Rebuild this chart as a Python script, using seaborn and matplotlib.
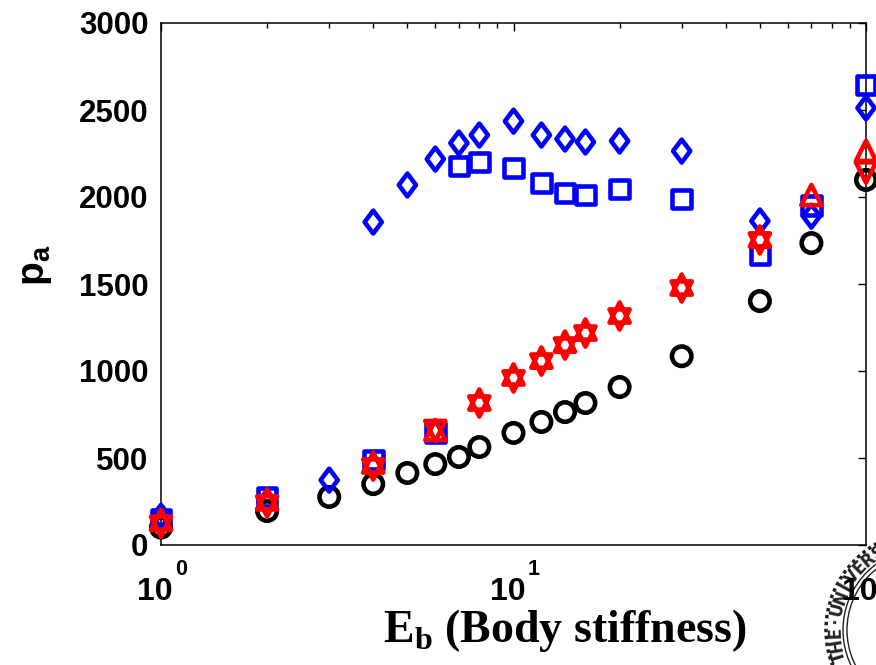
import numpy as np
import matplotlib
matplotlib.use('Agg')
import matplotlib.pyplot as plt
import seaborn as sns
import pandas as pd
from matplotlib.path import Path
from matplotlib.ticker import FixedLocator, LogLocator, NullFormatter
import matplotlib.patches as mpatches
import matplotlib.transforms as mtrans

# ---------------- data ----------------
x_circle = [1, 2, 3, 4, 5, 6, 7, 8, 10, 12, 14, 16, 20, 30, 50, 70, 100]
y_circle = [100, 195, 276, 350, 414, 465, 506, 563, 644, 707, 764, 816, 908, 1085, 1402, 1735, 2098]

x_square = [1, 2, 4, 6, 7, 8, 10, 12, 14, 16, 20, 30, 50, 70, 100]
y_square = [150, 276, 488, 648, 2178, 2201, 2167, 2080, 2023, 2011, 2046, 1989, 1667, 1950, 2644]

x_diamond = [1, 2, 3, 4, 5, 6, 7, 8, 10, 12, 14, 16, 20, 30, 50, 70, 100]
y_diamond = [165, 250, 373, 1856, 2069, 2218, 2310, 2356, 2436, 2356, 2333, 2316, 2322, 2264, 1862, 1890, 2512]

x_up = [1, 2, 4, 6, 8, 10, 12, 14, 16, 20, 30, 50, 70, 100]
y_up = [145, 262, 474, 661, 836, 980, 1077, 1169, 1238, 1336, 1497, 1773, 2011, 2265]

x_down = [1, 2, 4, 6, 8, 10, 12, 14, 16, 20, 30, 50, 100]
y_down = [105, 222, 434, 655, 796, 940, 1037, 1129, 1198, 1296, 1457, 1733, 2141]

x_ticks = [1, 10, 100]
x_tick_base = ['10', '10', '10']
x_tick_exp = ['0', '1', '2']
y_ticks = [0, 500, 1000, 1500, 2000, 2500, 3000]
y_ticklabels = ['0', '500', '1000', '1500', '2000', '2500', '3000']

seal_letters = list('THE\u00b7UNIVERSITY')

# ---------------- style ----------------
sns.set_style('white')
plt.rcParams['font.family'] = ['Liberation Sans', 'DejaVu Sans']
plt.rcParams['font.weight'] = 'bold'
plt.rcParams['text.color'] = 'black'
plt.rcParams['axes.labelcolor'] = 'black'
plt.rcParams['xtick.color'] = 'black'
plt.rcParams['ytick.color'] = 'black'
plt.rcParams['mathtext.fontset'] = 'custom'
plt.rcParams['mathtext.rm'] = 'Liberation Sans:bold'
plt.rcParams['mathtext.bf'] = 'Liberation Sans:bold'
plt.rcParams['mathtext.it'] = 'Liberation Sans:bold'

fig = plt.figure(figsize=(8.76, 6.65), dpi=100)
fig.patch.set_facecolor('white')
ax = fig.add_axes([161/876, 1-545/665, 705/876, 522/665])

diamond = Path([(0, 1), (0.75, 0), (0, -1), (-0.75, 0), (0, 1)],
               [Path.MOVETO, Path.LINETO, Path.LINETO, Path.LINETO, Path.CLOSEPOLY])

LW = 3.3
series = [
    (x_circle, y_circle, 'o', 14.0, 'black', 2),
    (x_square, y_square, 's', 13.5, '#0000ff', 3),
    (x_diamond, y_diamond, diamond, 16.5, '#0000ff', 4),
    (x_down, y_down, 'v', 14.5, '#ff0000', 5),
    (x_up, y_up, '^', 14.5, '#ff0000', 6),
]
for xs, ys, mk, ms, col, z in series:
    df = pd.DataFrame({'x': xs, 'y': ys})
    sns.scatterplot(data=df, x='x', y='y', marker=mk, s=ms**2, ax=ax,
                    facecolor='none', edgecolor=col, linewidth=LW, zorder=z,
                    legend=False, clip_on=False)
    coll = ax.collections[-1]
    coll.set_facecolor('none')
    coll.set_edgecolor(col)
    coll.set_linewidth(LW)
    coll.set_zorder(z)
    coll.set_clip_on(False)

ax.set_xscale('log')
ax.set_xlim(1, 100)
ax.set_ylim(0, 3000)
ax.xaxis.set_major_locator(FixedLocator(x_ticks))
ax.set_xticklabels(['' for _ in x_ticks])
ax.xaxis.set_minor_locator(LogLocator(base=10, subs=np.arange(2, 10)))
ax.xaxis.set_minor_formatter(NullFormatter())
ax.set_yticks(y_ticks)
ax.set_yticklabels(y_ticklabels)

ax.tick_params(axis='both', which='both', direction='in', top=True, right=True,
               color='black', width=1.0, labelcolor='black')
ax.tick_params(axis='both', which='major', length=6)
ax.tick_params(axis='both', which='minor', length=3.5)
ax.tick_params(axis='y', labelsize=22.5, pad=9)
for lab in ax.get_yticklabels():
    lab.set_fontweight('bold')

# x tick labels drawn as base + raised exponent (MATLAB style)
blend = mtrans.blended_transform_factory(ax.transData, ax.transAxes)
for xv, b, e in zip(x_ticks, x_tick_base, x_tick_exp):
    t1 = mtrans.offset_copy(blend, fig=fig, x=12, y=-55, units='dots')
    ax.text(xv, 0, b, transform=t1, ha='right', va='baseline', fontsize=23,
            fontweight='bold', color='black', clip_on=False)
    t2 = mtrans.offset_copy(blend, fig=fig, x=14, y=-30, units='dots')
    ax.text(xv, 0, e, transform=t2, ha='left', va='baseline', fontsize=15.5,
            fontweight='bold', color='black', clip_on=False)

for sp in ax.spines.values():
    sp.set_visible(True)
    sp.set_color('black')
    sp.set_linewidth(1.1)

ax.set_xlabel(r'E$_\mathregular{b}$ (Body stiffness)', fontsize=33, fontweight='bold',
              family=['Liberation Serif', 'DejaVu Serif'], color='black')
ax.xaxis.set_label_coords((565-161)/705, -0.118)
ax.xaxis.label.set_va('top')
ax.set_ylabel(r'p$_\mathregular{a}$', fontsize=28, fontweight='bold', color='black')
ax.yaxis.set_label_coords((54-161)/705, 0.535)

# ---------------- seal (decorative, bottom right) ----------------
cx, cy = 9.25, 0.35
tr = fig.dpi_scale_trans
for r, ls, lw in [(0.99, (0, (1, 1.0)), 2.5), (0.82, '-', 1.0), (0.78, '-', 1.0)]:
    c = mpatches.Circle((cx, cy), r, transform=tr, fill=False, edgecolor='#222222',
                        linestyle=ls, linewidth=lw, zorder=-1)
    fig.add_artist(c)
start, step = 197.0, -7.6
for i, ch in enumerate(seal_letters):
    ang = np.deg2rad(start + step * i)
    px = cx + 0.90 * np.cos(ang)
    py = cy + 0.90 * np.sin(ang)
    fig.text(px, py, ch, transform=tr, rotation=np.rad2deg(ang) - 90,
             ha='center', va='center', fontsize=12, fontweight='bold',
             family=['DejaVu Sans'], color='#222222', zorder=-1)

fig.savefig('out.png', dpi=100, facecolor='white')
